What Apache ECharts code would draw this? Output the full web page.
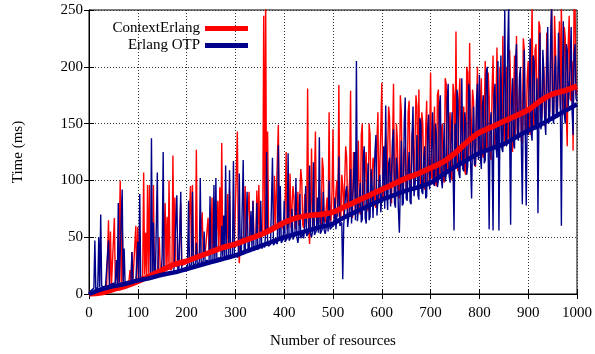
<!DOCTYPE html>
<html>
<head>
<meta charset="utf-8">
<script src="https://cdn.jsdelivr.net/npm/echarts@6/dist/echarts.min.js"></script>
<style>
html,body{margin:0;padding:0;background:#fff;}
#chart{width:595px;height:354px;}
</style>
</head>
<body>
<div id="chart"></div>
<script>
// Raw measurements sampled every 2 resources (0..1000)
const rawStep = 2;
const contextErlangRaw = [
0,1,1,2,1,2,2,3,2,3,3,4,3,4,4,5,4,5,5,6,65,6,55,7,6,7,67,8,7,8,8,9,100,9,65,10,9,10,10,11,10,12,21,11,37,12,11,13,60,12,
59,14,13,15,14,16,107,17,54,16,96,18,96,17,16,19,96,18,17,20,18,19,50,21,19,22,20,21,80,23,68,22,100,24,21,23,122,25,85,24,23,26,24,25,80,27,25,28,26,27,
27,29,28,30,95,31,96,30,30,32,127,31,31,33,32,34,72,33,33,35,34,36,67,35,35,37,85,36,80,38,36,37,82,39,94,38,133,40,38,39,39,41,88,40,92,42,41,43,42,44,
43,45,143,44,27,46,44,47,45,46,95,48,47,49,90,48,48,50,82,49,50,51,91,50,96,52,52,51,53,245,54,262,55,143,56,54,56,57,57,56,104,58,58,57,149,59,59,58,60,61,
55,80,125,57,56,62,106,58,58,95,85,59,57,65,90,60,60,110,100,61,58,88,75,62,181,60,44,70,128,63,60,100,143,64,62,80,95,63,61,120,110,65,63,75,85,64,160,66,64,90,
145,67,65,90,100,68,184,70,66,105,95,69,68,130,120,71,70,100,179,73,67,125,110,72,72,95,135,74,70,140,150,76,75,110,125,77,73,150,140,79,78,120,115,78,76,135,160,81,80,145,
186,86,82,120,140,84,85,165,155,87,80,130,185,90,88,150,135,86,84,175,160,92,90,125,130,89,87,160,170,95,93,140,145,91,90,175,165,96,180,110,95,160,150,94,92,145,170,99,98,130,
195,103,100,140,165,98,95,175,180,107,105,145,150,102,98,190,185,112,110,150,160,104,100,185,175,110,231,115,108,170,190,113,115,150,165,108,105,200,195,120,221,117,118,180,170,115,112,160,200,122,
125,170,190,123,120,160,205,128,130,195,175,122,118,180,210,132,128,165,217,137,135,200,190,130,227,142,130,185,200,136,140,215,185,130,125,175,210,140,227,145,138,180,195,135,132,225,215,143,145,190,
205,150,140,190,255,148,150,215,220,152,145,240,235,158,155,185,200,148,150,230,230,162,160,210,258,157,155,245,215,160,165,200,240,163,258,170,160,235,225,158,130,220,245,172,170,205,126,258,255,175,
180];
const erlangOtpRaw = [
0,1,3,2,4,5,47,4,5,6,50,6,70,7,7,6,6,8,8,7,47,8,7,9,9,8,8,10,30,9,80,10,9,11,92,10,40,9,10,11,11,12,9,11,37,12,11,10,12,13,
46,12,88,13,13,15,12,14,15,13,13,16,16,14,137,15,63,17,15,16,107,18,16,17,18,35,125,17,17,19,19,18,18,20,21,19,19,21,22,20,87,22,20,21,90,23,22,20,21,23,
23,25,82,24,24,26,90,23,25,27,45,25,26,28,102,26,25,29,55,27,27,30,28,26,86,29,27,31,96,28,102,30,29,32,31,29,60,33,69,31,113,32,32,34,109,31,33,35,117,33,
34,36,32,35,106,37,35,34,118,38,36,37,90,39,37,36,73,40,82,38,38,41,80,39,40,42,82,40,39,43,41,55,125,44,42,41,44,45,120,43,43,46,45,44,131,47,95,45,46,48,
82,46,47,49,124,47,48,50,75,48,49,52,102,50,45,51,88,49,51,53,49,60,95,51,52,54,113,53,50,55,116,52,51,56,85,54,138,53,55,57,90,56,53,58,70,55,100,57,57,59,
58,62,85,57,56,80,121,60,60,63,13,61,62,90,95,59,58,75,110,62,63,100,125,65,205,64,64,85,98,63,66,120,130,67,62,90,115,65,68,110,95,67,66,125,140,69,70,95,105,72,
72,100,130,75,166,90,74,115,120,77,78,135,145,80,76,120,110,74,54,95,135,78,80,150,173,84,82,110,125,81,79,140,165,86,85,105,140,87,83,155,150,90,88,120,130,84,86,145,158,92,
92,130,160,97,95,150,140,94,100,165,175,101,93,120,150,99,105,170,185,104,98,135,160,110,56,150,110,180,170,106,102,140,190,110,108,160,150,105,112,185,178,115,84,140,165,113,115,170,185,118,
193,120,110,165,175,115,118,195,200,125,57,150,160,122,56,175,185,130,120,205,56,140,210,128,125,180,250,135,130,215,255,140,61,170,190,132,128,205,220,138,135,190,200,130,79,175,215,140,78,160,
140,180,225,142,135,210,205,148,145,190,71,155,230,145,150,215,195,152,140,200,235,150,155,225,255,158,150,195,210,155,160,230,230,162,60,185,240,158,150,220,215,165,165,200,235,160,140,210,220,172,
170];

// Smoothed trends sampled every 25 resources (0..1000)
const trendStep = 25;
const contextErlangTrend = [0,1,4,7,11,16,21,26,29,33,37,41,44,48,52,57,63,67,69,70,72,77,82,87,92,97,102,106,111,116,124,134,142,147,152,157,162,170,176,179,183];
const erlangOtpTrend = [0,4,7,9,12,14,17,19,22,25,28,31,34,38,42,46,50,53,56,59,62,68,73,78,83,87,91,94,98,105,112,118,124,128,132,138,144,149,155,161,167];

function pairs(arr, step){ return arr.map((v,i)=>[i*step, v]); }

const FONT = "'Liberation Serif','Times New Roman',serif";
const RED = '#ff0000', BLUE = '#00008b';

const chart = echarts.init(document.getElementById('chart'), null, {renderer:'canvas'});
const gridLine = {show:true, lineStyle:{color:'#333', type:[1,2], width:1}};
chart.setOption({
  animation:false,
  backgroundColor:'#fff',
  grid:{left:89, right:17, top:10, bottom:59, show:true, borderColor:'#000', borderWidth:1, backgroundColor:'transparent'},
  legend:{
    data:['ContextErlang','Erlang OTP'],
    orient:'vertical', align:'right', right:347, top:21, padding:0, itemGap:2,
    icon:'rect', itemWidth:43, itemHeight:5,
    textStyle:{fontFamily:FONT, fontSize:15, color:'#000'},
    selectedMode:false
  },
  xAxis:[{
    type:'value', min:0, max:1000, interval:100,
    name:'Number of resources', nameLocation:'middle', nameGap:40,
    nameTextStyle:{fontFamily:FONT, fontSize:15, color:'#000'},
    axisLine:{show:true, lineStyle:{color:'#000'}},
    axisTick:{show:true, inside:true, length:5, lineStyle:{color:'#000'}},
    axisLabel:{fontFamily:FONT, fontSize:15, color:'#000', margin:12, formatter:v=>String(v)},
    splitLine:gridLine
  },{
    type:'value', min:0, max:1000, interval:100, position:'top',
    axisLine:{show:true, lineStyle:{color:'#000'}},
    axisTick:{show:true, inside:true, length:5, lineStyle:{color:'#000'}},
    axisLabel:{show:false}, splitLine:{show:false}
  }],
  yAxis:[{
    type:'value', min:0, max:250, interval:50,
    name:'Time (ms)', nameLocation:'middle', nameGap:63, nameRotate:90,
    nameTextStyle:{fontFamily:FONT, fontSize:15, color:'#000'},
    axisLine:{show:true, lineStyle:{color:'#000'}},
    axisTick:{show:true, inside:true, length:5, lineStyle:{color:'#000'}},
    axisLabel:{fontFamily:FONT, fontSize:15, color:'#000', margin:6, formatter:v=>String(v)},
    splitLine:gridLine
  },{
    type:'value', min:0, max:250, interval:50, position:'right',
    axisLine:{show:true, lineStyle:{color:'#000'}},
    axisTick:{show:true, inside:true, length:5, lineStyle:{color:'#000'}},
    axisLabel:{show:false}, splitLine:{show:false}
  }],
  series:[
    {name:'ContextErlang raw', type:'line', data:pairs(contextErlangRaw, rawStep), showSymbol:false, symbol:'none',
     lineStyle:{color:RED, width:1.4}, itemStyle:{color:RED}, clip:true, silent:true, sampling:null},
    {name:'Erlang OTP raw', type:'line', data:pairs(erlangOtpRaw, rawStep), showSymbol:false, symbol:'none',
     lineStyle:{color:BLUE, width:1.4}, itemStyle:{color:BLUE}, clip:true, silent:true, sampling:null},
    {name:'ContextErlang', type:'line', data:pairs(contextErlangTrend, trendStep), showSymbol:false, symbol:'none', smooth:0.3,
     lineStyle:{color:RED, width:5.5}, itemStyle:{color:RED}, clip:true, silent:true},
    {name:'Erlang OTP', type:'line', data:pairs(erlangOtpTrend, trendStep), showSymbol:false, symbol:'none', smooth:0.3,
     lineStyle:{color:BLUE, width:4.5}, itemStyle:{color:BLUE}, clip:true, silent:true}
  ]
});
</script>
</body>
</html>
